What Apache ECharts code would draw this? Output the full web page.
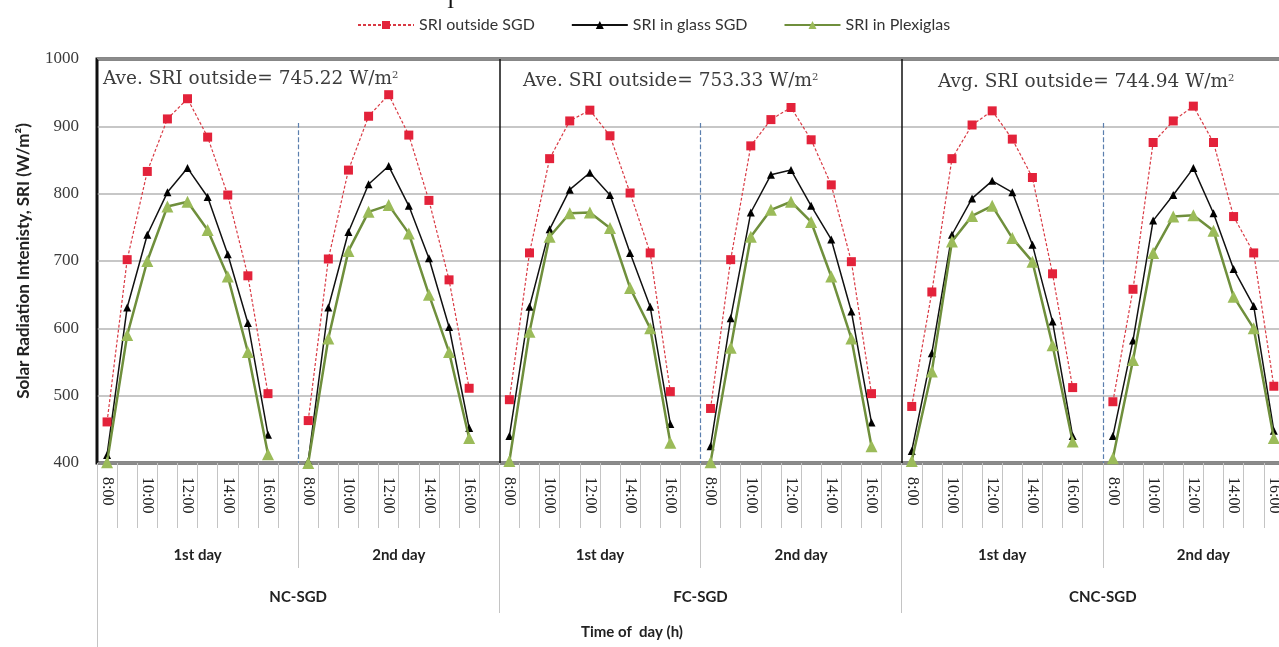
<!DOCTYPE html>
<html>
<head>
<meta charset="utf-8">
<script src="https://cdn.jsdelivr.net/npm/echarts@6/dist/echarts.min.js"></script>
<style>
  html, body { margin: 0; padding: 0; background: #fff; overflow: hidden; }
  /* the original figure is cropped on the right, so the chart is wider than the window */
  #chart { width: 1310px; height: 647px; }
</style>
</head>
<body>
<div id="chart"></div>
<script>
// hours of one day, last slot is the empty gap before next day
var dayHours = ['8:00', '9:00', '10:00', '11:00', '12:00', '13:00', '14:00', '15:00', '16:00', ''];
var days = ['1st day', '2nd day', '1st day', '2nd day', '1st day', '2nd day'];
var panels = ['NC-SGD', 'FC-SGD', 'CNC-SGD'];
var avgText = ['Ave. SRI outside= 745.22 W/m', 'Ave. SRI outside= 753.33 W/m', 'Avg. SRI outside= 744.94 W/m'];
var dayBreaks = [10, 30, 50];

// SRI outside SGD
var outNC1 = [461, 702, 833, 911, 941, 884, 798, 678, 503];
var outNC2 = [463, 703, 835, 915, 947, 887, 790, 672, 511];
var outFC1 = [494, 712, 852, 908, 924, 886, 801, 712, 506];
var outFC2 = [481, 702, 871, 910, 928, 880, 813, 699, 503];
var outCNC1 = [484, 654, 852, 902, 923, 881, 824, 681, 512];
var outCNC2 = [491, 658, 876, 908, 930, 876, 766, 712, 514];
// SRI in glass SGD
var glassNC1 = [412, 631, 739, 802, 838, 795, 710, 608, 442];
var glassNC2 = [403, 631, 743, 814, 841, 782, 704, 602, 452];
var glassFC1 = [440, 632, 747, 806, 831, 798, 712, 632, 458];
var glassFC2 = [425, 615, 772, 828, 835, 782, 732, 625, 460];
var glassCNC1 = [418, 563, 739, 793, 819, 802, 724, 610, 440];
var glassCNC2 = [440, 582, 760, 798, 838, 771, 688, 633, 448];
// SRI in Plexiglas
var plexNC1 = [401, 590, 700, 781, 788, 746, 677, 565, 413];
var plexNC2 = [400, 585, 715, 773, 783, 741, 650, 565, 437];
var plexFC1 = [403, 595, 736, 771, 772, 749, 660, 600, 430];
var plexFC2 = [401, 571, 736, 776, 788, 758, 677, 585, 425];
var plexCNC1 = [403, 536, 729, 767, 782, 734, 699, 575, 432];
var plexCNC2 = [407, 553, 712, 766, 768, 745, 647, 600, 437];

// glue the days together, a null after each day breaks the line
function joinDays(list) {
  var out = [];
  list.forEach(function (d) { out = out.concat(d, [null]); });
  return out;
}

var hours = [];
days.forEach(function () { hours = hours.concat(dayHours); });

var lato = 'Lato, "Open Sans", sans-serif';
var serif = '"Liberation Serif", "DejaVu Serif", serif';
var tickGray = '#c4c4c4';

var myChart = echarts.init(document.getElementById('chart'));

var annots = avgText.map(function (t, i) {
  var lefts = [103, 523, 938];
  var tops = [70, 72, 73];
  return {
    type: 'text',
    left: lefts[i],
    top: tops[i],
    style: {
      text: t + '{sup|2}',
      font: '18.5px "DejaVu Serif", serif',
      fill: '#3c3c3c',
      rich: { sup: { fontSize: 10, verticalAlign: 'top', fill: '#3c3c3c', fontFamily: '"DejaVu Serif", serif' } }
    }
  };
});

myChart.setOption({
  animation: false,
  backgroundColor: '#fff',
  legend: {
    left: 352,
    top: 12,
    itemWidth: 56,
    itemHeight: 10,
    itemGap: 36,
    textStyle: { fontFamily: lato, fontSize: 16, color: '#333' },
    data: ['SRI outside SGD', 'SRI in glass SGD', 'SRI in Plexiglas']
  },
  grid: {
    left: 97,
    top: 59,
    width: 1207,
    height: 404,
    show: true,
    borderColor: '#111',
    borderWidth: 3,
    backgroundColor: 'transparent'
  },
  graphic: annots.concat([
    {
      type: 'text', left: 447, top: -9,
      style: { text: 'I', font: '22px "Liberation Serif", serif', fill: '#111' }
    },
    {
      type: 'text', left: 581, top: 625,
      style: { text: 'Time of  day (h)', font: 'bold 15px Lato, sans-serif', fill: '#222' }
    }
  ]),
  xAxis: [
    {
      type: 'category',
      data: hours,
      boundaryGap: true,
      axisLine: { show: false },
      axisTick: { show: true, interval: 0, length: 65, lineStyle: { color: tickGray, width: 1 } },
      axisLabel: { interval: 1, rotate: -90, margin: 14, fontFamily: serif, fontSize: 16, color: '#222' },
      splitLine: { show: false }
    },
    {
      type: 'category',
      data: days,
      position: 'bottom',
      axisLine: { show: false },
      axisTick: { show: true, interval: 0, length: 105, lineStyle: { color: tickGray, width: 1 } },
      axisLabel: { interval: 0, margin: 85, fontFamily: lato, fontWeight: 'bold', fontSize: 15, color: '#222' },
      splitLine: { show: false }
    },
    {
      type: 'category',
      data: panels,
      position: 'bottom',
      axisLine: { show: false },
      axisTick: { show: true, interval: 0, length: 150, lineStyle: { color: tickGray, width: 1 } },
      axisLabel: { interval: 0, margin: 127, fontFamily: lato, fontWeight: 'bold', fontSize: 15, color: '#222' },
      splitLine: { show: true, interval: 0, lineStyle: { color: '#111', width: 1.5 } }
    },
    {
      type: 'category',
      data: [''],
      position: 'bottom',
      axisLine: { show: false },
      axisTick: { show: true, interval: 0, length: 184, lineStyle: { color: tickGray, width: 1 } },
      axisLabel: { show: false },
      splitLine: { show: false }
    },
    {
      type: 'value',
      min: 0,
      max: 60,
      show: false
    }
  ],
  yAxis: {
    type: 'value',
    min: 400,
    max: 1000,
    interval: 100,
    name: 'Solar Radiation Intenisty, SRI (W/m²)',
    nameLocation: 'middle',
    nameGap: 65,
    nameTextStyle: { fontFamily: lato, fontWeight: 'bold', fontSize: 17, color: '#222' },
    axisLine: { show: false },
    axisTick: { show: false },
    axisLabel: {
      margin: 18, fontFamily: serif, fontSize: 17, color: '#3a3a3a',
      formatter: function (v) { return String(v); }
    },
    splitLine: { show: true, lineStyle: { color: '#b4b4b4', width: 1.5 } }
  },
  series: [
    {
      name: 'SRI outside SGD',
      type: 'line',
      xAxisIndex: 0,
      data: joinDays([outNC1, outNC2, outFC1, outFC2, outCNC1, outCNC2]),
      symbol: 'rect',
      symbolSize: 9,
      itemStyle: { color: '#e3223a' },
      lineStyle: { color: '#d93a44', width: 1.2, type: [3, 2] },
      z: 3
    },
    {
      name: 'SRI in glass SGD',
      type: 'line',
      xAxisIndex: 0,
      data: joinDays([glassNC1, glassNC2, glassFC1, glassFC2, glassCNC1, glassCNC2]),
      symbol: 'triangle',
      symbolSize: 8,
      itemStyle: { color: '#000' },
      lineStyle: { color: '#111', width: 1.5 },
      z: 3
    },
    {
      name: 'SRI in Plexiglas',
      type: 'line',
      xAxisIndex: 0,
      data: joinDays([plexNC1, plexNC2, plexFC1, plexFC2, plexCNC1, plexCNC2]),
      symbol: 'triangle',
      symbolSize: 12,
      itemStyle: { color: '#9bbb59' },
      lineStyle: { color: '#6f8f3c', width: 2.5 },
      z: 4
    },
    {
      // dashed separators between the two days of a panel
      type: 'line',
      xAxisIndex: 4,
      data: [],
      silent: true,
      markLine: {
        symbol: 'none',
        silent: true,
        label: { show: false },
        lineStyle: { type: 'dashed', color: '#5b7fae', width: 1.2 },
        data: dayBreaks.map(function (b) {
          return [{ coord: [b, 905] }, { coord: [b, 400] }];
        })
      }
    }
  ]
});
</script>
</body>
</html>
